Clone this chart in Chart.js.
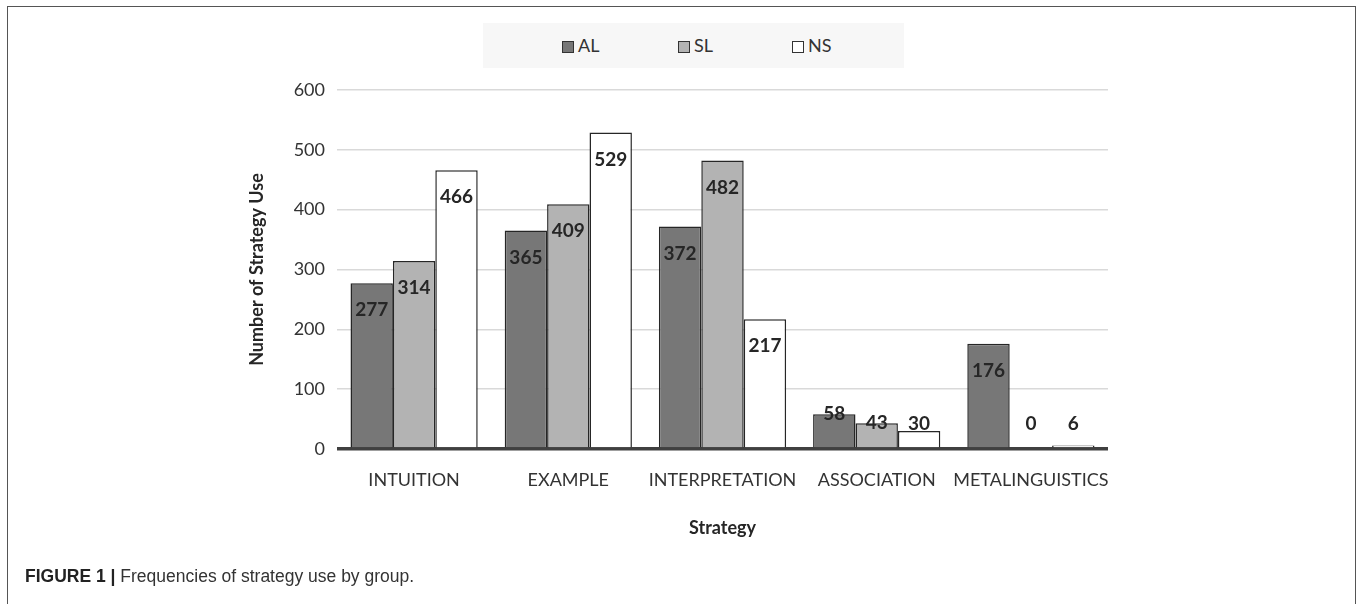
<!DOCTYPE html>
<html>
<head>
<meta charset="utf-8">
<script src="https://cdn.jsdelivr.net/npm/chart.js@4/dist/chart.umd.min.js"></script>
<style>
  body { margin: 0; background: #fff; }
  #wrap { position: relative; width: 1357px; height: 604px; overflow: hidden; }
  #frame { position: absolute; left: 7px; top: 6px; width: 1347px; height: 620px; border: 1.5px solid #555; }
  #chart { position: absolute; left: 0; top: 0; }
  #legend { position: absolute; left: 483px; top: 23px; width: 421px; height: 45px; background: #f7f7f7; }
  .item { position: absolute; top: 12px; font: 18px Lato, sans-serif; color: #333; line-height: 20px; }
  .item span { display: inline-block; width: 10px; height: 10px; border: 1.2px solid #333; margin-right: 4px; vertical-align: -1px; }
  #caption { position: absolute; left: 25px; top: 566px; font: 17.5px "Liberation Sans", Arial, sans-serif; color: #333; }
  #caption b { color: #222; }
</style>
</head>
<body>
<div id="wrap">
  <div id="frame"></div>
  <div id="legend"></div>
  <canvas id="chart" width="1357" height="604"></canvas>
  <div id="caption"><b>FIGURE 1 |</b> Frequencies of strategy use by group.</div>
</div>
<script>
const strategies = ['INTUITION', 'EXAMPLE', 'INTERPRETATION', 'ASSOCIATION', 'METALINGUISTICS'];
const groups = ['AL', 'SL', 'NS'];
const alValues = [277, 365, 372, 58, 176];
const slValues = [314, 409, 482, 43, 0];
const nsValues = [466, 529, 217, 30, 6];
const yTicks = [0, 100, 200, 300, 400, 500, 600];

const groupColors = ['#777777', '#b3b3b3', '#ffffff'];
const legendX = [79, 195, 309];

// legend in the grey strip above the plot
const legendEl = document.getElementById('legend');
groups.forEach((g, i) => {
    const d = document.createElement('div');
    d.className = 'item';
    d.style.left = legendX[i] + 'px';
    d.innerHTML = '<span style="background:' + groupColors[i] + '"></span>' + g;
    legendEl.appendChild(d);
});

// value labels: inside the top of tall bars, on top edge of short ones
const barLabels = {
    id: 'barLabels',
    afterDatasetsDraw(chart) {
        const ctx = chart.ctx;
        const base = chart.scales.y.getPixelForValue(0);
        ctx.save();
        ctx.font = 'bold 19px Lato, sans-serif';
        ctx.fillStyle = '#262626';
        ctx.textAlign = 'center';
        ctx.textBaseline = 'middle';
        chart.data.datasets.forEach((ds, i) => {
            chart.getDatasetMeta(i).data.forEach((bar, j) => {
                const v = ds.data[j];
                let y;
                if (base - bar.y > 60) y = bar.y + 27;
                else y = Math.min(bar.y, base - 25);
                ctx.fillText(String(v), bar.x, y);
            });
        });
        ctx.restore();
    }
};

new Chart(document.getElementById('chart'), {
    type: 'bar',
    data: {
        labels: strategies,
        datasets: [alValues, slValues, nsValues].map((vals, i) => ({
            label: groups[i],
            data: vals,
            backgroundColor: groupColors[i],
            borderColor: '#262626',
            borderWidth: 1.5,
            borderSkipped: 'bottom',
            barPercentage: 1,
            categoryPercentage: 0.825
        }))
    },
    options: {
        responsive: false,
        animation: false,
        layout: { padding: { left: 240, top: 90, right: 249, bottom: 65 } },
        plugins: { legend: { display: false }, tooltip: { enabled: false } },
        scales: {
            x: {
                grid: { display: false, drawTicks: false },
                border: { display: false },
                ticks: { color: '#333', font: { family: 'Lato', size: 18 }, padding: 20, maxRotation: 0, autoSkip: false },
                title: { display: true, text: 'Strategy', color: '#262626', font: { family: 'Lato', size: 18, weight: 'bold' }, padding: { top: 0, bottom: 0 } },
                afterFit(scale) { scale.height = 90; }
            },
            y: {
                min: 0,
                max: 600,
                afterBuildTicks(scale) { scale.ticks = yTicks.map(v => ({ value: v })); },
                grid: {
                    drawTicks: false,
                    color: c => c.tick.value === 0 ? '#404040' : '#d9d9d9',
                    lineWidth: c => c.tick.value === 0 ? 3.5 : 1.5
                },
                border: { display: false },
                ticks: { color: '#333', font: { family: 'Lato', size: 18 }, padding: 12 },
                title: { display: true, text: 'Number of Strategy Use', color: '#262626', font: { family: 'Lato', size: 18, weight: 'bold' }, padding: { top: 6, bottom: 0 } },
                afterFit(scale) { scale.width = 97; }
            }
        }
    },
    plugins: [barLabels]
});
</script>
</body>
</html>
